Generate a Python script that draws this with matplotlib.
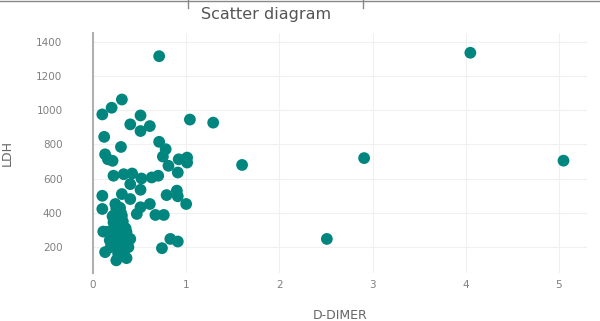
import matplotlib.pyplot as plt
from matplotlib.lines import Line2D

# values
d_dimer = [
    0.71, 4.05, 1.60, 2.91, 5.05, 2.51,
    0.31, 0.20, 0.10, 0.51, 0.40, 0.61, 0.51, 1.04, 1.29,
    0.12, 0.30, 0.71, 0.78, 0.13, 0.16, 0.21, 0.75, 0.92, 1.01, 1.01, 0.81, 0.91,
    0.22, 0.33, 0.42, 0.52, 0.63, 0.70,
    0.40, 0.51, 0.10, 0.31, 0.40, 0.79, 0.90, 0.91, 1.00,
    0.24, 0.10, 0.25, 0.51, 0.61, 0.47, 0.67, 0.76, 0.22, 0.31, 0.22,
    0.11, 0.25, 0.36, 0.25, 0.40, 0.25, 0.38, 0.13, 0.27, 0.25, 0.36,
    0.74, 0.83, 0.91,
    0.28, 0.32, 0.26, 0.30, 0.34, 0.28, 0.32, 0.23, 0.35, 0.30, 0.27, 0.33, 0.20, 0.15,
    0.18, 0.21, 0.19, 0.29,
]
ldh = [
    1315, 1335, 680, 720, 705, 248,
    1062, 1014, 975, 969, 917, 907, 878, 945, 927,
    844, 785, 815, 772, 742, 713, 704, 729, 713, 723, 694, 675, 636,
    617, 626, 630, 601, 607, 617,
    568, 535, 500, 510, 481, 504, 530, 497, 452,
    452, 423, 423, 433, 452, 394, 388, 388, 384, 384, 345,
    291, 297, 287, 248, 248, 210, 200, 171, 161, 123, 136,
    194, 248, 233,
    330, 350, 270, 230, 260, 190, 180, 320, 310, 400, 360, 220, 270, 290,
    240, 380, 200, 430,
]

x_ticks = [0, 1, 2, 3, 4, 5]
y_ticks = [200, 400, 600, 800, 1000, 1200, 1400]

fig = plt.figure(figsize=(6, 3.21), dpi=100)
ax = fig.add_axes([0.155, 0.15, 0.823, 0.747])

ax.scatter(d_dimer, ldh, s=72, color='#00857f', edgecolors='none', zorder=3)

ax.set_xlim(0, 5.3)
ax.set_ylim(50, 1450)
ax.set_xticks(x_ticks)
ax.set_yticks(y_ticks)
ax.grid(color='#f0f0f0', linewidth=0.8, zorder=0)

for side in ['top', 'right', 'bottom']:
    ax.spines[side].set_visible(False)
ax.spines['left'].set_color('#b0b0b0')
ax.spines['left'].set_linewidth(1.5)

ax.tick_params(axis='both', length=0, labelsize=7.5, labelcolor='#808080')
ax.tick_params(axis='y', pad=22)
ax.tick_params(axis='x', pad=5)

ax.set_xlabel('D-DIMER', fontsize=9, color='#666666', labelpad=14)
ax.set_ylabel('LDH', fontsize=9, color='#666666', labelpad=16)
ax.set_title('Scatter diagram', fontsize=11.5, color='#555555', pad=10, x=0.35)

# table border from the source page
fig.add_artist(Line2D([0, 1], [0.997, 0.997], color='#888888', linewidth=1))
fig.add_artist(Line2D([0.313, 0.313], [0.975, 1], color='#888888', linewidth=1))
fig.add_artist(Line2D([0.605, 0.605], [0.975, 1], color='#888888', linewidth=1))

fig.savefig('out.png', dpi=100)
